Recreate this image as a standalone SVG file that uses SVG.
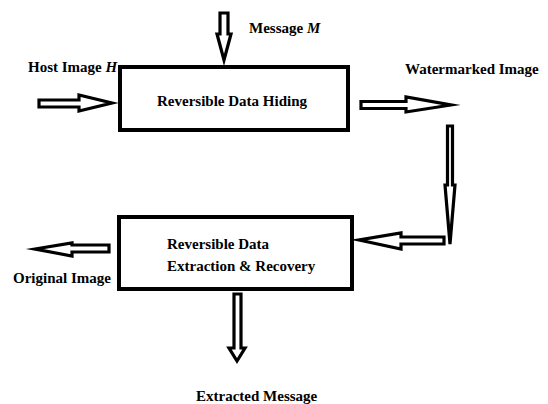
<svg xmlns="http://www.w3.org/2000/svg" width="548" height="404" viewBox="0 0 548 404">
<style>
.box{fill:#fff;stroke:#000;stroke-width:4}
.arr{fill:#fff;stroke:#000;stroke-width:3.2;stroke-linejoin:miter;stroke-miterlimit:10}
text{font-family:"Liberation Serif","Times New Roman",serif;font-weight:bold;font-size:15px;fill:#000}
</style>
<rect width="548" height="404" fill="#fff"/>
<g id="connectors">
<path class="arr" d="M39,100 L79,100 L79,95 L112,103 L79,111 L79,107 L39,107 Z"/>
<path class="arr" d="M220,13 L228,13 L228,34 L231,34 L224,60 L217,34 L220,34 Z"/>
<path class="arr" d="M361,101.5 L406,101.5 L406,97 L451,105 L406,112 L406,108.5 L361,108.5 Z"/>
<path class="arr" d="M447.5,126 L452.5,126 L452.5,185 L455,185 L450,244 L445,185 L447.5,185 Z"/>
<path class="arr" d="M444,237 L401,237 L401,233 L359,240 L401,249 L401,244 L444,244 Z"/>
<path class="arr" d="M109,245 L72,245 L72,243 L35,249 L72,256 L72,252 L109,252 Z"/>
<path class="arr" d="M234,294 L241,294 L241,348 L245,348 L237,361 L229,348 L234,348 Z"/>
</g>
<g id="hiding">
<rect class="box" x="120" y="67" width="228" height="63"/>
<text x="232" y="106" text-anchor="middle">Reversible Data Hiding</text>
</g>
<g id="extraction">
<rect class="box" x="119" y="217" width="233" height="72"/>
<text x="167" y="249">Reversible Data</text>
<text x="167" y="271">Extraction &amp; Recovery</text>
</g>
<g id="host"><text x="28" y="72">Host Image <tspan font-style="italic">H</tspan></text></g>
<g id="message"><text x="249" y="33">Message <tspan font-style="italic">M</tspan></text></g>
<g id="watermarked"><text x="405" y="74">Watermarked Image</text></g>
<g id="original"><text x="13" y="283">Original Image</text></g>
<g id="extracted"><text x="196" y="401">Extracted Message</text></g>
</svg>
